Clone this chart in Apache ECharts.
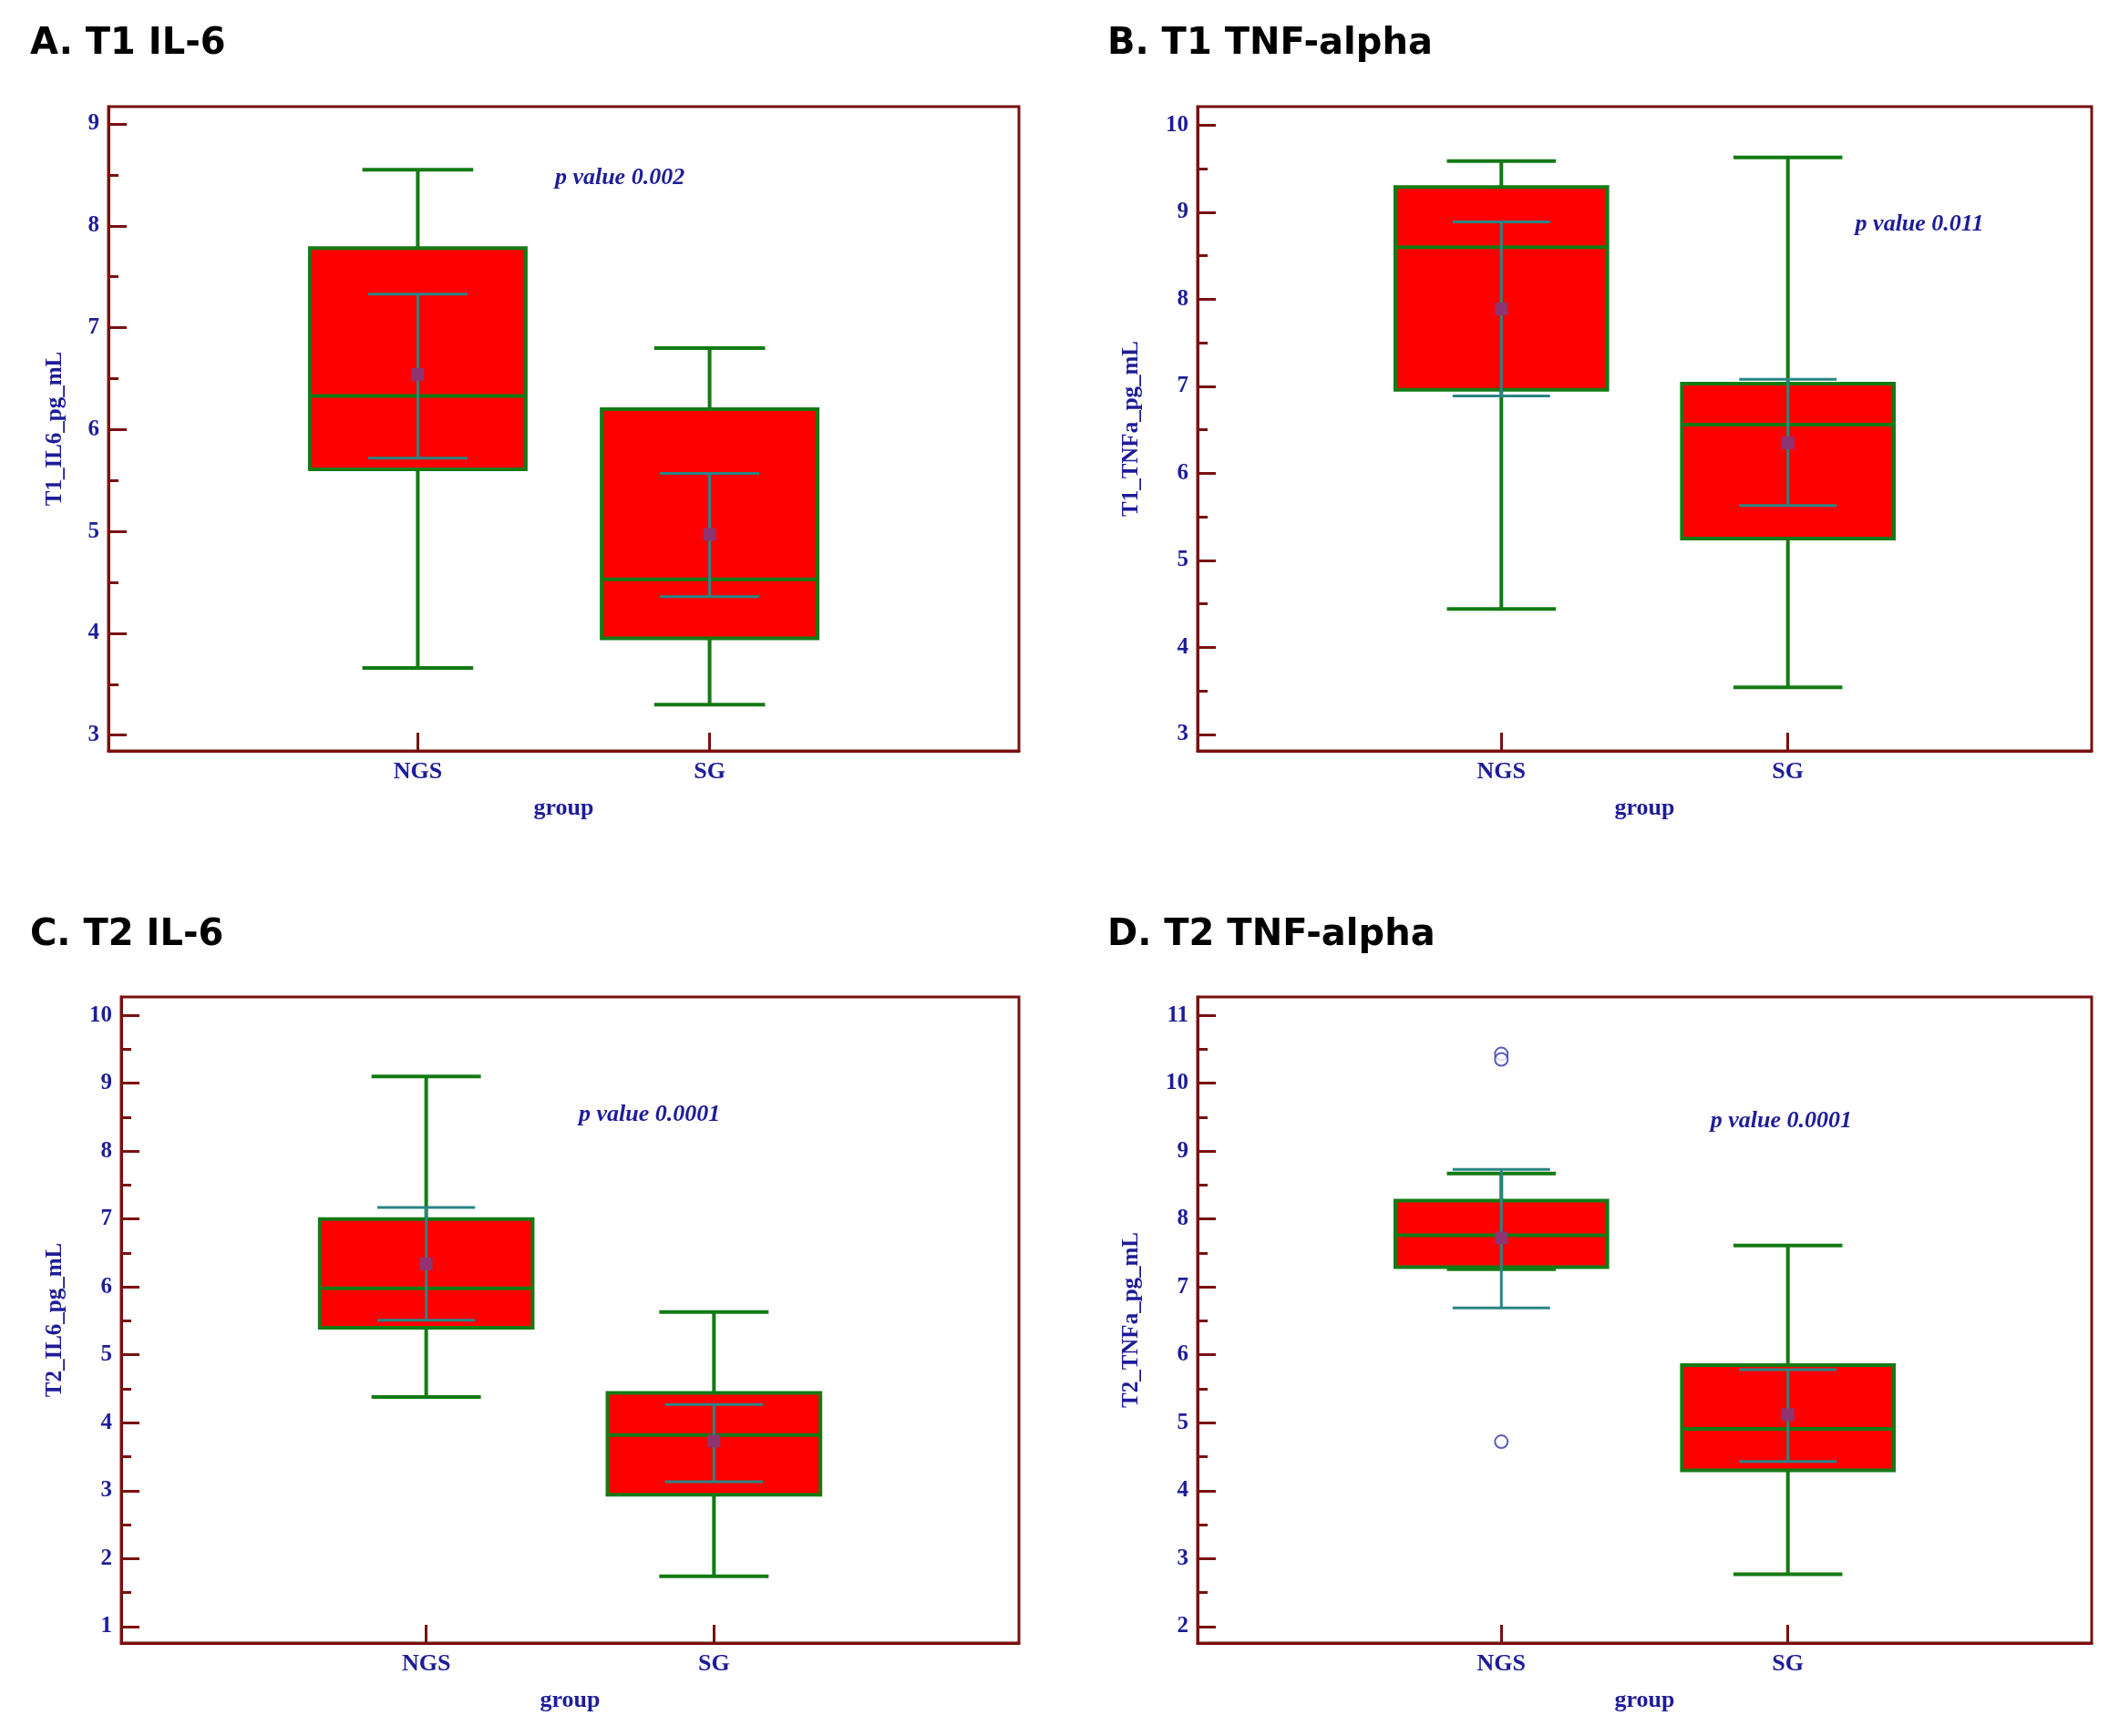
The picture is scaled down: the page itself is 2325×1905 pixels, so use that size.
<!DOCTYPE html>
<html>
<head>
<meta charset="utf-8">
<script src="https://cdn.jsdelivr.net/npm/echarts@6/dist/echarts.min.js"></script>
<style>
html, body { margin: 0; padding: 0; background: #fff; }
#main { width: 2325px; height: 1905px; }
</style>
</head>
<body>
<div id="main"></div>
<script>
var groups = ['NGS', 'SG'];

// box stats per group: [low whisker, Q1, median, Q3, high whisker]
var t1Il6Box = [[3.66, 5.61, 6.33, 7.78, 8.55], [3.30, 3.95, 4.53, 6.20, 6.80]];
var t1Il6Mean = [6.54, 4.97];
var t1Il6Ci = [[5.72, 7.33], [4.36, 5.57]];
var t1Il6Ticks = [3, 4, 5, 6, 7, 8, 9];

var t1TnfBox = [[4.44, 6.96, 8.60, 9.29, 9.59], [3.54, 5.25, 6.56, 7.03, 9.63]];
var t1TnfMean = [7.89, 6.35];
var t1TnfCi = [[6.89, 8.89], [5.63, 7.08]];
var t1TnfTicks = [3, 4, 5, 6, 7, 8, 9, 10];

var t2Il6Box = [[4.38, 5.40, 5.98, 7.00, 9.10], [1.74, 2.94, 3.82, 4.44, 5.63]];
var t2Il6Mean = [6.34, 3.73];
var t2Il6Ci = [[5.51, 7.17], [3.13, 4.27]];
var t2Il6Ticks = [1, 2, 3, 4, 5, 6, 7, 8, 9, 10];

var t2TnfBox = [[7.26, 7.29, 7.76, 8.27, 8.67], [2.77, 4.30, 4.91, 5.85, 7.61]];
var t2TnfMean = [7.72, 5.12];
var t2TnfCi = [[6.69, 8.73], [4.43, 5.78]];
var t2TnfTicks = [2, 3, 4, 5, 6, 7, 8, 9, 10, 11];
// outliers: [group index, value]
var t2TnfOutliers = [[0, 10.43], [0, 10.35], [0, 4.72]];

var pValues = ['p value 0.002', 'p value 0.011', 'p value 0.0001', 'p value 0.0001'];

var NAVY = '#1d1d98';
var MAROON = '#7a1010';
var GREEN = '#147a14';
var TEAL = '#2a8585';
var PURPLE = '#8e3470';
var SERIF = '"Liberation Serif", "Times New Roman", serif';

var panels = [
  { title: 'A. T1 IL-6', yName: 'T1_IL6_pg_mL', box: t1Il6Box, mean: t1Il6Mean, ci: t1Il6Ci, ticks: t1Il6Ticks, outliers: [],
    grid: { left: 119, top: 117, width: 999, height: 707 }, yRange: [2.845, 9.17], nameGap: 46,
    titlePos: [28, 24], pPos: [1.47, 8.47] },
  { title: 'B. T1 TNF-alpha', yName: 'T1_TNFa_pg_mL', box: t1TnfBox, mean: t1TnfMean, ci: t1TnfCi, ticks: t1TnfTicks, outliers: [],
    grid: { left: 1314, top: 117, width: 981, height: 707 }, yRange: [2.81, 10.215], nameGap: 60,
    titlePos: [1210, 24], pPos: [2.235, 8.86] },
  { title: 'C. T2 IL-6', yName: 'T2_IL6_pg_mL', box: t2Il6Box, mean: t2Il6Mean, ci: t2Il6Ci, ticks: t2Il6Ticks, outliers: [],
    grid: { left: 133, top: 1094, width: 985, height: 709 }, yRange: [0.756, 10.27], nameGap: 60,
    titlePos: [28, 1002], pPos: [1.53, 8.54] },
  { title: 'D. T2 TNF-alpha', yName: 'T2_TNFa_pg_mL', box: t2TnfBox, mean: t2TnfMean, ci: t2TnfCi, ticks: t2TnfTicks, outliers: t2TnfOutliers,
    grid: { left: 1314, top: 1094, width: 981, height: 709 }, yRange: [1.756, 11.27], nameGap: 60,
    titlePos: [1210, 1002], pPos: [1.73, 9.44] }
];

function renderBox(params, api) {
  var x = api.value(0);
  var unit = api.size([1, 0])[0];
  var boxHalf = unit * 0.37, capHalf = unit * 0.19, ciHalf = unit * 0.17;
  var cx = api.coord([x, 0])[0];
  var y = function (v) { return api.coord([x, v])[1]; };
  var yLo = y(api.value(1)), yQ1 = y(api.value(2)), yMed = y(api.value(3)),
      yQ3 = y(api.value(4)), yHi = y(api.value(5)), yMean = y(api.value(6)),
      yCiLo = y(api.value(7)), yCiHi = y(api.value(8));
  var green = { stroke: GREEN, lineWidth: 4 };
  var teal = { stroke: TEAL, lineWidth: 3 };
  function line(x1, y1, x2, y2, st) {
    return { type: 'line', shape: { x1: x1, y1: y1, x2: x2, y2: y2 }, style: st };
  }
  return {
    type: 'group',
    children: [
      line(cx, yLo, cx, yHi, green),
      line(cx - capHalf, yLo, cx + capHalf, yLo, green),
      line(cx - capHalf, yHi, cx + capHalf, yHi, green),
      { type: 'rect', shape: { x: cx - boxHalf, y: yQ3, width: boxHalf * 2, height: yQ1 - yQ3 },
        style: { fill: '#ff0000', stroke: GREEN, lineWidth: 4 } },
      line(cx - boxHalf, yMed, cx + boxHalf, yMed, green),
      line(cx, yCiLo, cx, yCiHi, teal),
      line(cx - ciHalf, yCiLo, cx + ciHalf, yCiLo, teal),
      line(cx - ciHalf, yCiHi, cx + ciHalf, yCiHi, teal),
      { type: 'rect', shape: { x: cx - 7, y: yMean - 7, width: 14, height: 14 }, style: { fill: PURPLE } }
    ]
  };
}

var option = { animation: false, backgroundColor: '#fff', title: [], grid: [], xAxis: [], yAxis: [], series: [] };

panels.forEach(function (p, i) {
  option.title.push({
    text: p.title, left: p.titlePos[0], top: p.titlePos[1],
    textStyle: { fontFamily: 'DejaVu Sans', fontWeight: 'bold', fontSize: 40, color: '#000' }
  });
  option.grid.push({
    left: p.grid.left, top: p.grid.top, width: p.grid.width, height: p.grid.height,
    show: true, borderColor: MAROON, borderWidth: 3, outerBoundsMode: 'none'
  });
  option.xAxis.push({
    type: 'value', gridIndex: i, min: -0.06, max: 3.06, position: 'bottom',
    name: 'group', nameLocation: 'middle', nameGap: 50, nameMoveOverlap: false,
    nameTextStyle: { fontFamily: SERIF, fontWeight: 'bold', fontSize: 26, color: NAVY },
    axisLine: { show: true, onZero: false, lineStyle: { color: MAROON, width: 3 } },
    axisTick: { show: true, inside: true, length: 20, customValues: [1, 2], lineStyle: { color: MAROON, width: 3 } },
    axisLabel: { customValues: [1, 2], margin: 10, fontFamily: SERIF, fontWeight: 'bold', fontSize: 26, color: NAVY,
      formatter: function (v) { return groups[Math.round(v) - 1] || ''; } },
    splitLine: { show: false }
  });
  var minor = [];
  for (var k = 0; k < p.ticks.length - 1; k++) minor.push((p.ticks[k] + p.ticks[k + 1]) / 2);
  option.yAxis.push({
    type: 'value', gridIndex: i, min: p.yRange[0], max: p.yRange[1], position: 'left',
    name: p.yName, nameLocation: 'middle', nameGap: p.nameGap, nameMoveOverlap: false,
    nameTextStyle: { fontFamily: SERIF, fontWeight: 'bold', fontSize: 25, color: NAVY },
    axisLine: { show: true, onZero: false, lineStyle: { color: MAROON, width: 3 } },
    axisTick: { show: true, inside: true, length: 20, customValues: p.ticks, lineStyle: { color: MAROON, width: 3 } },
    axisLabel: { customValues: p.ticks, margin: 10, fontFamily: SERIF, fontWeight: 'bold', fontSize: 25, color: NAVY },
    splitLine: { show: false }
  });
  option.yAxis.push({
    type: 'value', gridIndex: i, min: p.yRange[0], max: p.yRange[1], position: 'left', offset: 0,
    axisLine: { show: false, onZero: false },
    axisTick: { show: true, inside: true, length: 11, customValues: minor, lineStyle: { color: MAROON, width: 3 } },
    axisLabel: { show: false },
    splitLine: { show: false }
  });
  option.series.push({
    type: 'custom', xAxisIndex: i, yAxisIndex: i * 2, renderItem: renderBox,
    data: groups.map(function (g, j) {
      return [j + 1].concat(p.box[j], [p.mean[j], p.ci[j][0], p.ci[j][1]]);
    })
  });
  if (p.outliers.length) {
    option.series.push({
      type: 'scatter', xAxisIndex: i, yAxisIndex: i * 2, symbol: 'emptyCircle', symbolSize: 14,
      itemStyle: { color: '#3535aa', borderWidth: 2 },
      data: p.outliers.map(function (o) { return [o[0] + 1, o[1]]; })
    });
  }
  option.series.push({
    type: 'custom', xAxisIndex: i, yAxisIndex: i * 2, data: [p.pPos],
    renderItem: function (params, api) {
      var pt = api.coord([api.value(0), api.value(1)]);
      return { type: 'text', x: pt[0], y: pt[1],
        style: { text: pValues[i], fill: NAVY, font: 'italic bold 26px ' + SERIF, align: 'left', verticalAlign: 'middle' } };
    }
  });
});

var myChart = echarts.init(document.getElementById('main'));
myChart.setOption(option);
</script>
</body>
</html>
